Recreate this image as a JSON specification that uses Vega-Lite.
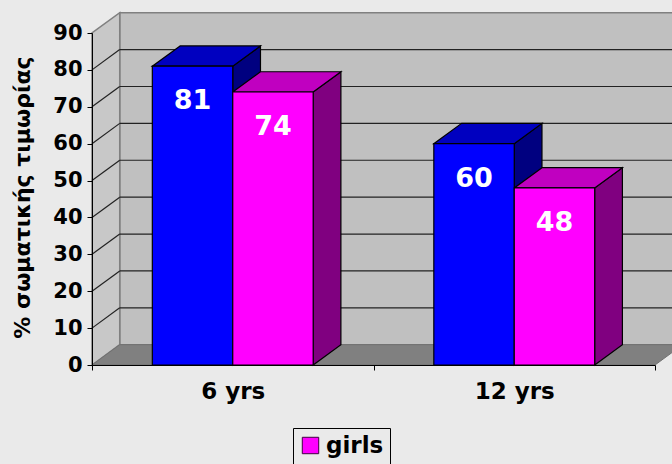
{
"$schema":"https://vega.github.io/schema/vega-lite/v6.json",
"width":563,"height":332,
"autosize":"none",
"padding":{"left":92,"top":33,"right":17,"bottom":99},
"background":"#eaeaea",
"config":{"view":{"stroke":null},"font":"DejaVu Sans"},
"datasets":{
"bars":[
{"age":"6 yrs","series":"boys","value":81},
{"age":"6 yrs","series":"girls","value":74},
{"age":"12 yrs","series":"boys","value":60},
{"age":"12 yrs","series":"girls","value":48}],
"sides":[
{"bar":"6 boys","series":"boys","u":0.5,"v":81,"v0":0},
{"bar":"6 boys","series":"boys","u":0.5985,"v":86.5,"v0":5.5},
{"bar":"6 girls","series":"girls","u":0.7857,"v":74,"v0":0},
{"bar":"6 girls","series":"girls","u":0.8842,"v":79.5,"v0":5.5},
{"bar":"12 boys","series":"boys","u":1.5,"v":60,"v0":0},
{"bar":"12 boys","series":"boys","u":1.5985,"v":65.5,"v0":5.5},
{"bar":"12 girls","series":"girls","u":1.7857,"v":48,"v0":0},
{"bar":"12 girls","series":"girls","u":1.8842,"v":53.5,"v0":5.5}],
"tops":[
{"bar":"6 boys","series":"boys","v":81,"u":0.2143,"u2":0.5},
{"bar":"6 boys","series":"boys","v":86.5,"u":0.3128,"u2":0.5985},
{"bar":"6 girls","series":"girls","v":74,"u":0.5,"u2":0.7857},
{"bar":"6 girls","series":"girls","v":79.5,"u":0.5985,"u2":0.8842},
{"bar":"12 boys","series":"boys","v":60,"u":1.2143,"u2":1.5},
{"bar":"12 boys","series":"boys","v":65.5,"u":1.3128,"u2":1.5985},
{"bar":"12 girls","series":"girls","v":48,"u":1.5,"u2":1.7857},
{"bar":"12 girls","series":"girls","v":53.5,"u":1.5985,"u2":1.8842}],
"leftwall":[{"u":0,"v":0,"v2":90},{"u":0.0985,"v":5.5,"v2":95.5}],
"backwall":[{"u":0.0985,"u2":2.2,"v":5.5,"v2":95.5}],
"floor":[{"v":0,"u":0,"u2":2},{"v":5.5,"u":0.0985,"u2":2.0985}],
"grid":[
{"level":10,"u":0,"u1":0.0985,"u2":2.2,"back":15.5},
{"level":20,"u":0,"u1":0.0985,"u2":2.2,"back":25.5},
{"level":30,"u":0,"u1":0.0985,"u2":2.2,"back":35.5},
{"level":40,"u":0,"u1":0.0985,"u2":2.2,"back":45.5},
{"level":50,"u":0,"u1":0.0985,"u2":2.2,"back":55.5},
{"level":60,"u":0,"u1":0.0985,"u2":2.2,"back":65.5},
{"level":70,"u":0,"u1":0.0985,"u2":2.2,"back":75.5},
{"level":80,"u":0,"u1":0.0985,"u2":2.2,"back":85.5}]
},
"resolve":{"scale":{"x":"independent","color":"independent"},"axis":{"y":"independent"}},
"layer":[
{"data":{"name":"backwall"},
 "mark":{"type":"rect","fill":"#c0c0c0","stroke":"#808080","strokeWidth":1.5},
 "encoding":{"x":{"field":"u","type":"quantitative","scale":{"domain":[0,2],"nice":false,"zero":false},"axis":null},"x2":{"field":"u2"},
  "y":{"field":"v","type":"quantitative","scale":{"domain":[0,90],"nice":false},"axis":null},"y2":{"field":"v2"}}},
{"data":{"name":"leftwall"},
 "mark":{"type":"area","fill":"#c8c8c8","stroke":"#808080","strokeWidth":1.5},
 "encoding":{"x":{"field":"u","type":"quantitative","scale":{"domain":[0,2],"nice":false,"zero":false},"axis":null},
  "y":{"field":"v","type":"quantitative","scale":{"domain":[0,90],"nice":false},"axis":null},"y2":{"field":"v2"}}},
{"data":{"name":"floor"},
 "mark":{"type":"area","orient":"horizontal","fill":"#808080","stroke":"#707070","strokeWidth":1},
 "encoding":{"y":{"field":"v","type":"quantitative","scale":{"domain":[0,90],"nice":false},"axis":null},
  "x":{"field":"u","type":"quantitative","scale":{"domain":[0,2],"nice":false,"zero":false},"axis":null},"x2":{"field":"u2"}}},
{"data":{"name":"grid"},
 "mark":{"type":"rule","stroke":"#222222","strokeWidth":1.2},
 "encoding":{"x":{"field":"u1","type":"quantitative","scale":{"domain":[0,2],"nice":false,"zero":false},"axis":null},"x2":{"field":"u2"},
  "y":{"field":"back","type":"quantitative","scale":{"domain":[0,90],"nice":false},"axis":null}}},
{"data":{"name":"grid"},
 "mark":{"type":"rule","stroke":"#222222","strokeWidth":1.2},
 "encoding":{"x":{"field":"u","type":"quantitative","scale":{"domain":[0,2],"nice":false,"zero":false},"axis":null},"x2":{"field":"u1"},
  "y":{"field":"level","type":"quantitative","scale":{"domain":[0,90],"nice":false},"axis":null},"y2":{"field":"back"}}},
{"data":{"name":"sides"},
 "mark":{"type":"area","stroke":"#000000","strokeWidth":1.2},
 "encoding":{"x":{"field":"u","type":"quantitative","scale":{"domain":[0,2],"nice":false,"zero":false},"axis":null},
  "y":{"field":"v","type":"quantitative","scale":{"domain":[0,90],"nice":false},"axis":null},"y2":{"field":"v0"},
  "detail":{"field":"bar"},
  "color":{"field":"series","type":"nominal","scale":{"domain":["boys","girls"],"range":["#000080","#800080"]},"legend":null}}},
{"data":{"name":"tops"},
 "mark":{"type":"area","orient":"horizontal","stroke":"#000000","strokeWidth":1.2},
 "encoding":{"y":{"field":"v","type":"quantitative","scale":{"domain":[0,90],"nice":false},"axis":null},
  "x":{"field":"u","type":"quantitative","scale":{"domain":[0,2],"nice":false,"zero":false},"axis":null},"x2":{"field":"u2"},
  "detail":{"field":"bar"},
  "color":{"field":"series","type":"nominal","scale":{"domain":["boys","girls"],"range":["#0000c0","#c000c0"]},"legend":null}}},
{"data":{"name":"bars"},
 "mark":{"type":"bar","stroke":"#000000","strokeWidth":1.2},
 "encoding":{
  "x":{"field":"age","type":"nominal","sort":["6 yrs","12 yrs"],"scale":{"paddingInner":0,"paddingOuter":0},
   "axis":{"title":null,"labelAngle":0,"labelFont":"DejaVu Sans","labelFontWeight":"bold","labelFontSize":23,"labelColor":"#000000","labelPadding":10,"tickBand":"extent","tickSize":5,"tickColor":"#000000","domainColor":"#000000","zindex":1}},
  "xOffset":{"field":"series","type":"nominal","sort":["boys","girls"],"scale":{"paddingInner":0,"paddingOuter":0.75}},
  "y":{"field":"value","type":"quantitative","scale":{"domain":[0,90],"nice":false},
   "axis":{"values":[0,10,20,30,40,50,60,70,80,90],"title":"% σωματικής τιμωρίας","titleFont":"DejaVu Sans","titleFontWeight":"bold","titleFontSize":22,"titleColor":"#000000","titleX":-58,"titleY":164,"labelFont":"DejaVu Sans","labelFontWeight":"bold","labelFontSize":21,"labelColor":"#000000","labelPadding":5,"tickSize":5,"tickColor":"#000000","domainColor":"#000000","grid":false,"zindex":1}},
  "color":{"field":"series","type":"nominal","scale":{"domain":["boys","girls"],"range":["#0000ff","#ff00ff"]},
   "legend":{"values":["girls"],"title":null,"orient":"none","legendX":201,"legendY":395,"strokeColor":"#000000","padding":6,"symbolType":"square","symbolSize":270,"symbolStrokeColor":"#400040","symbolStrokeWidth":1,"labelFont":"DejaVu Sans","labelFontWeight":"bold","labelFontSize":23,"labelColor":"#000000","labelOffset":4}}}},
{"data":{"name":"bars"},
 "mark":{"type":"text","color":"#ffffff","font":"DejaVu Sans","fontWeight":"bold","fontSize":27,"baseline":"middle","dy":35},
 "encoding":{
  "x":{"field":"age","type":"nominal","sort":["6 yrs","12 yrs"],"scale":{"paddingInner":0,"paddingOuter":0},"axis":null},
  "xOffset":{"field":"series","type":"nominal","sort":["boys","girls"],"scale":{"paddingInner":0,"paddingOuter":0.75}},
  "y":{"field":"value","type":"quantitative","scale":{"domain":[0,90],"nice":false},"axis":null},
  "text":{"field":"value","type":"quantitative"}}}
]
}
